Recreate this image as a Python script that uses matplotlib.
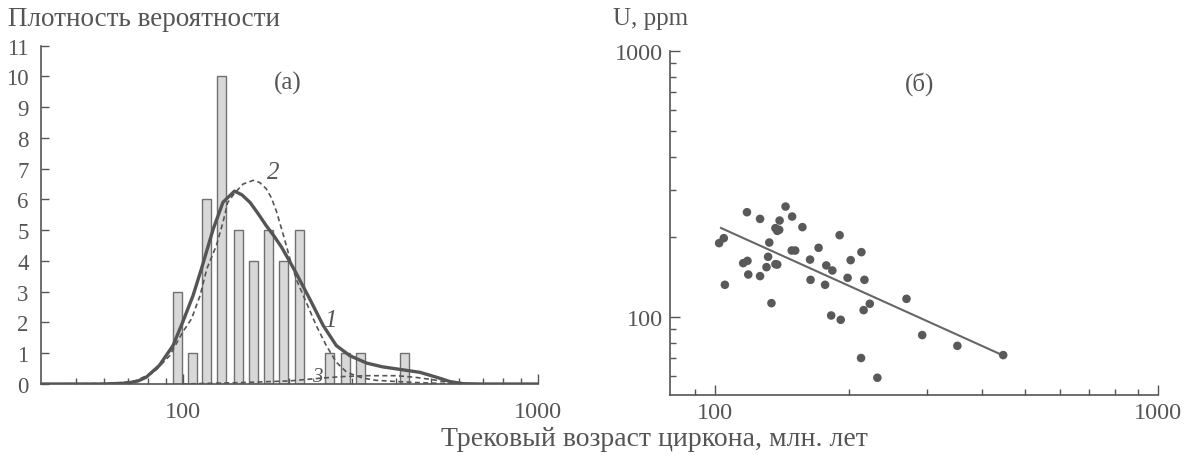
import numpy as np
import matplotlib
matplotlib.use("Agg")
import matplotlib.pyplot as plt
from matplotlib.ticker import FixedLocator, NullFormatter, FixedFormatter

plt.rcParams['font.family'] = ['Liberation Serif', 'DejaVu Serif']

# --- (а) histogram of fission-track ages ---
bin_age = [96.5, 106.4, 116.8, 128.8, 143.3, 158, 174.4, 192.7, 213.3, 259.5, 287, 316.6, 422.5]
bin_count = [3, 1, 6, 10, 5, 4, 5, 4, 5, 1, 1, 1, 1]

# curve 1: probability density (solid)
c1_age = [40, 60, 70, 75, 79, 86, 94, 100, 107, 113, 122, 130, 140, 147, 155, 163, 172, 180, 190,
          200, 209, 228, 249, 271, 296, 330, 365, 401, 466, 519, 566, 617, 700, 1000]
c1_val = [0.0, 0.0, 0.03, 0.1, 0.22, 0.6, 1.25, 2.0, 2.87, 3.74, 5.04, 5.91, 6.27, 6.15, 5.9, 5.55,
          5.15, 4.85, 4.45, 4.0, 3.6, 2.77, 1.9, 1.25, 0.92, 0.68, 0.56, 0.49, 0.38, 0.22, 0.08,
          0.01, 0.0, 0.0]

# curve 2: main component (dashed)
c2_age = [40, 65, 74, 83, 92, 100, 106, 112, 117, 124.5, 130, 134, 140, 148, 158, 165, 172, 178,
          184, 190, 196, 202, 210, 223, 238, 254, 271, 290, 320, 350, 400, 450, 500, 560, 620]
c2_val = [0.0, 0.02, 0.11, 0.38, 0.92, 1.68, 2.12, 2.87, 3.74, 4.5, 5.26, 5.9, 6.2, 6.5, 6.62, 6.55,
          6.35, 6.05, 5.6, 5.05, 4.5, 3.95, 3.35, 2.66, 1.9, 1.25, 0.71, 0.38, 0.2, 0.12, 0.08,
          0.05, 0.03, 0.01, 0.0]

# curve 3: minor component (dashed)
c3_age = [100, 150, 200, 240, 280, 330, 400, 450, 500, 550, 600, 650]
c3_val = [0.0, 0.05, 0.1, 0.18, 0.24, 0.27, 0.27, 0.22, 0.15, 0.07, 0.02, 0.0]

# --- (б) U content vs age ---
u_age = [102.0, 104.5, 105.1, 117.9, 115.6, 118.2, 118.7, 126.2, 126.2, 132.4, 131.6, 130.5, 133.9,
         136.7, 138.0, 139.7, 139.4, 136.7, 138.0, 144.1, 149.1, 148.8, 151.5, 157.3, 163.7, 164.1,
         171.1, 177.0, 178.1, 182.7, 183.8, 190.9, 192.0, 199.0, 202.2, 213.8, 213.4, 216.3, 217.2,
         223.3, 232.3, 270.3, 293.3, 352.2, 447.0]
u_ppm = [189.5, 197.8, 132.2, 247.6, 159.4, 162.6, 144.5, 233.7, 142.5, 190.5, 168.4, 154.0, 112.8,
         215.7, 210.7, 230.4, 212.6, 158.0, 157.5, 260.0, 238.5, 177.8, 177.8, 217.6, 164.4, 138.0,
         182.0, 132.2, 156.3, 101.4, 149.6, 203.0, 97.7, 140.4, 163.6, 175.3, 70.2, 106.2, 138.0,
         112.2, 59.2, 117.1, 85.6, 78.0, 72.0]
fit_age = [103, 445]
fit_ppm = [216, 72]

ink = '#555555'
fig = plt.figure(figsize=(11.99, 4.56), dpi=100)

# ---------- panel (а) ----------
ax1 = fig.add_axes([0.0344, 0.1557, 0.4140, 0.7419])
ax1.set_xscale('log')
h = 0.0127
lefts = [a * 10 ** -h for a in bin_age]
widths = [a * (10 ** h - 10 ** -h) for a in bin_age]
ax1.bar(lefts, bin_count, width=widths, align='edge', color='#d8d8d8',
        edgecolor='#707070', linewidth=1.0, zorder=1)
ax1.plot(c1_age, c1_val, color=ink, lw=2.4, zorder=3, solid_capstyle='round')
ax1.plot(c2_age, c2_val, color=ink, lw=1.2, ls=(0, (3, 2)), zorder=2)
ax1.plot(c3_age, c3_val, color=ink, lw=1.2, ls=(0, (3, 2)), zorder=2)
ax1.set_xlim(40, 1000)
ax1.set_ylim(0, 11)
ax1.set_yticks(range(0, 12))
ax1.xaxis.set_major_locator(FixedLocator([100, 1000]))
ax1.xaxis.set_minor_locator(FixedLocator([50, 60, 70, 80, 90, 200, 300, 400, 500, 600, 700, 800, 900]))
ax1.xaxis.set_major_formatter(FixedFormatter(['100', '1000']))
ax1.xaxis.set_minor_formatter(NullFormatter())
ax1.text(173, 6.7, '2', fontsize=18, style='italic', color=ink)
ax1.text(250, 1.9, '1', fontsize=18, style='italic', color=ink)
ax1.text(232, 0.1, '3', fontsize=15, style='italic', color=ink)
ax1.text(198, 9.8, '(а)', fontsize=18, color=ink, ha='center', va='center')
ax1.tick_params(axis='y', which='major', direction='in', length=6, width=1, pad=9,
                labelsize=16.5, colors=ink)
ax1.tick_params(axis='x', which='major', direction='in', length=7, width=1, pad=12,
                labelsize=17.5, colors=ink)
ax1.tick_params(axis='x', which='minor', direction='in', length=4.5, width=1, colors=ink)

# ---------- panel (б) ----------
ax2 = fig.add_axes([0.5588, 0.1316, 0.4070, 0.7550])
ax2.set_xscale('log')
ax2.set_yscale('log')
ax2.plot(fit_age, fit_ppm, color='#666666', lw=1.5, zorder=2)
ax2.scatter(u_age, u_ppm, s=38, color='#595959', edgecolors='none', zorder=3)
ax2.set_xlim(79, 1000)
ax2.set_ylim(51, 1000)
ax2.xaxis.set_major_locator(FixedLocator([100, 1000]))
ax2.xaxis.set_minor_locator(FixedLocator([90, 200, 300, 400, 500, 600, 700, 800, 900]))
ax2.yaxis.set_major_locator(FixedLocator([100, 1000]))
ax2.yaxis.set_minor_locator(FixedLocator([60, 70, 80, 90, 200, 300, 400, 500, 600, 700, 800, 900]))
for axis in (ax2.xaxis, ax2.yaxis):
    axis.set_major_formatter(FixedFormatter(['100', '1000']))
    axis.set_minor_formatter(NullFormatter())
ax2.text(290, 757, '(б)', fontsize=18, color=ink, ha='center', va='center')
ax2.tick_params(which='major', direction='in', length=7, width=1, pad=5,
                labelsize=17.5, colors=ink)
ax2.tick_params(which='minor', direction='in', length=4.5, width=1, colors=ink)

for ax in (ax1, ax2):
    for side in ('top', 'right'):
        ax.spines[side].set_visible(False)
    for side in ('left', 'bottom'):
        ax.spines[side].set_color(ink)
        ax.spines[side].set_linewidth(1.2)

fig.text(0.0065, 0.942, 'Плотность вероятности', fontsize=19.5, color=ink, va='baseline')
fig.text(0.511, 0.945, 'U, ppm', fontsize=18, color=ink, va='baseline')
fig.text(0.546, 0.022, 'Трековый возраст циркона, млн. лет', fontsize=20, color=ink,
         ha='center', va='baseline')

fig.savefig('out.png', dpi=100)
